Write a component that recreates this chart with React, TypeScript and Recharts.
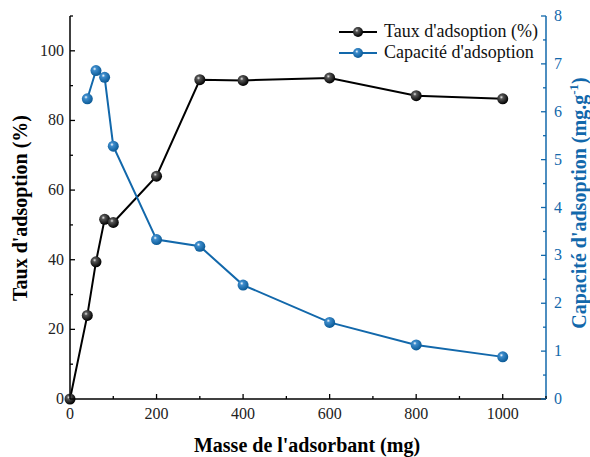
import { LineChart, Line, XAxis, YAxis } from "recharts"

const masses = [0, 40, 60, 80, 100, 200, 300, 400, 600, 800, 1000]
const taux = [0, 24, 39.4, 51.6, 50.7, 64, 91.7, 91.5, 92.2, 87.1, 86.2]
const capacite = [null, 6.27, 6.86, 6.72, 5.28, 3.33, 3.19, 2.38, 1.6, 1.13, 0.88]

const xTicks = [0, 100, 200, 300, 400, 500, 600, 700, 800, 900, 1000, 1100]
const leftTicks = [0, 10, 20, 30, 40, 50, 60, 70, 80, 90, 100, 110]
const rightTicks = [0, 0.5, 1, 1.5, 2, 2.5, 3, 3.5, 4, 4.5, 5, 5.5, 6, 6.5, 7, 7.5, 8]

const BLUE = "#1268ab"
const FONT = "Liberation Serif, Times New Roman, serif"
const serif = { fontFamily: FONT }

const data = masses.map((m, i) => ({ m, taux: taux[i], cap: capacite[i] }))

const Ball = ({ cx, cy, grad }: any) =>
  cx == null || cy == null ? null : <circle cx={cx} cy={cy} r={5.5} fill={`url(#${grad})`} />

const LeftTick = ({ x, y, payload }: any) => {
  const major = payload.value % 20 === 0
  return <g>
    <line x1={x} x2={x + (major ? 5 : 3)} y1={y} y2={y} stroke="#000" strokeWidth={1.3} />
    {major && payload.value <= 100 && <text x={x - 6} y={y} dy={5} textAnchor="end" fontSize={16} style={serif} fill="#222">{payload.value}</text>}
  </g>
}

const RightTick = ({ x, y, payload }: any) => {
  const major = Number.isInteger(payload.value)
  return <g>
    <line x1={x} x2={x - (major ? 5 : 3)} y1={y} y2={y} stroke={BLUE} strokeWidth={1.3} />
    {major && <text x={x + 8} y={y} dy={5} textAnchor="start" fontSize={16} style={serif} fill={BLUE}>{payload.value}</text>}
  </g>
}

const BottomTick = ({ x, y, payload }: any) => {
  const major = payload.value % 200 === 0
  return <g>
    <line x1={x} x2={x} y1={y} y2={y - (major ? 5 : 3)} stroke="#000" strokeWidth={1.3} />
    {major && payload.value <= 1000 && <text x={x} y={y + 20} textAnchor="middle" fontSize={16} style={serif} fill="#222">{payload.value}</text>}
  </g>
}

const legendItems = [["Taux d'adsoption (%)", "#000", "gBlack"], ["Capacité d'adsoption", BLUE, "gBlue"]]

const LegendBox = () => <div style={{ position: "absolute", top: 21, left: 338, fontFamily: FONT, fontSize: 18, lineHeight: "21px" }}>
  {legendItems.map(([label, color, grad]) =>
    <div key={label} style={{ display: "flex", alignItems: "center" }}>
      <svg width={42} height={16}>
        <line x1={1} x2={39} y1={8} y2={8} stroke={color} strokeWidth={2} />
        <circle cx={20} cy={8} r={5} fill={`url(#${grad})`} />
      </svg>
      <span style={{ marginLeft: 4, color: "#111" }}>{label}</span>
    </div>)}
</div>

export default function App() {
  return <div style={{ position: "relative", width: 590, height: 457 }}>
    <style>{`body{margin:0}`}</style>
    <LineChart width={590} height={457} data={data} margin={{ top: 16, right: 0, bottom: 0, left: 0 }}>
      <defs>
        <radialGradient id="gBlack" cx="0.38" cy="0.35" r="0.65">
          <stop offset="0" stopColor="#e8e8e8" />
          <stop offset="0.25" stopColor="#555" />
          <stop offset="1" stopColor="#000" />
        </radialGradient>
        <radialGradient id="gBlue" cx="0.38" cy="0.35" r="0.65">
          <stop offset="0" stopColor="#ffffff" />
          <stop offset="0.25" stopColor="#3d8ccc" />
          <stop offset="1" stopColor="#0b5a96" />
        </radialGradient>
      </defs>
      <XAxis dataKey="m" type="number" domain={[0, 1100]} ticks={xTicks} height={58}
        axisLine={{ stroke: "#000", strokeWidth: 1.5 }} tickLine={false} tickSize={0} tickMargin={0}
        tick={<BottomTick />} interval={0}
        label={({ viewBox }: any) => <text x={307} y={viewBox.y + 53} textAnchor="middle"
          style={serif} fontWeight="bold" fontSize={20} fill="#000">Masse de l'adsorbant (mg)</text>} />
      <XAxis xAxisId="top" orientation="top" dataKey="m" type="number" domain={[0, 1100]} height={0}
        tick={false} tickLine={false} axisLine={{ stroke: "#000", strokeWidth: 1.5 }} />
      <YAxis yAxisId="left" domain={[0, 110]} ticks={leftTicks} width={70} interval={0}
        axisLine={{ stroke: "#000", strokeWidth: 1.5 }} tickLine={false} tickSize={0} tickMargin={0}
        tick={<LeftTick />}
        label={() => {
          const cx = 27, cy = 208
          return <text x={cx} y={cy} transform={`rotate(-90 ${cx} ${cy})`} textAnchor="middle"
            style={serif} fontWeight="bold" fontSize={20} fill="#000">Taux d'adsoption (%)</text>
        }} />
      <YAxis yAxisId="right" orientation="right" domain={[0, 8]} ticks={rightTicks} width={44} interval={0}
        axisLine={{ stroke: BLUE, strokeWidth: 1.5 }} tickLine={false} tickSize={0} tickMargin={0}
        tick={<RightTick />}
        label={() => {
          const cx = 586, cy = 203
          return <text x={cx} y={cy} transform={`rotate(-90 ${cx} ${cy})`} textAnchor="middle"
            style={serif} fontWeight="bold" fontSize={20} fill={BLUE}>
            Capacité d'adsoption (mg.g<tspan dy={-8} fontSize={13}>-1</tspan><tspan dy={8}>)</tspan>
          </text>
        }} />
      <Line yAxisId="left" dataKey="taux" stroke="#000" strokeWidth={2} isAnimationActive={false}
        dot={<Ball grad="gBlack" />} activeDot={false} />
      <Line yAxisId="right" dataKey="cap" stroke={BLUE} strokeWidth={2} isAnimationActive={false}
        dot={<Ball grad="gBlue" />} activeDot={false} />
    </LineChart>
    <LegendBox />
  </div>
}
